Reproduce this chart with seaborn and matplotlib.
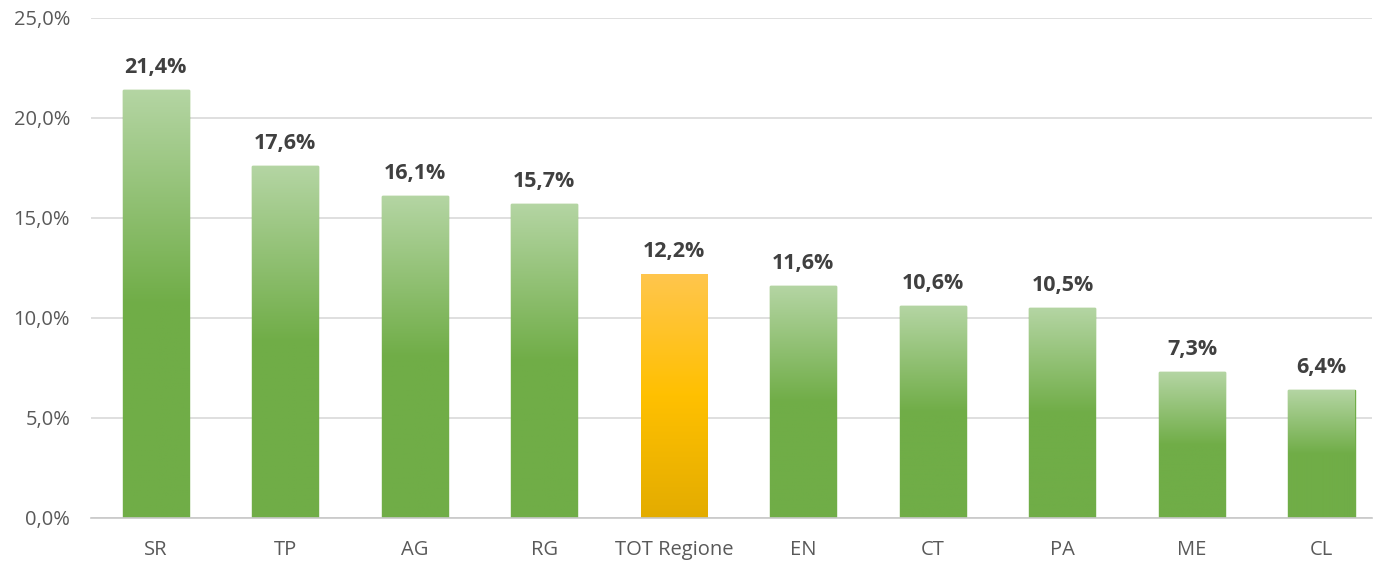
"""Bar chart of percentages by province, with gradient-filled bars."""

import numpy as np
import pandas as pd
import seaborn as sns
import matplotlib.pyplot as plt
from matplotlib.colors import LinearSegmentedColormap

categories = ["SR", "TP", "AG", "RG", "TOT Regione", "EN", "CT", "PA", "ME", "CL"]
values = [21.4, 17.6, 16.1, 15.7, 12.2, 11.6, 10.6, 10.5, 7.3, 6.4]
highlight = "TOT Regione"
yticks = [0, 5, 10, 15, 20, 25]

df = pd.DataFrame({"cat": categories, "val": values})

sns.set_style("white")
plt.rcParams["font.family"] = ["Open Sans", "DejaVu Sans"]

fig = plt.figure(figsize=(13.76, 5.61), dpi=100)
ax = fig.add_axes([91 / 1376, 1 - 518 / 561, (1372 - 91) / 1376, 500 / 561])

sns.barplot(data=df, x="cat", y="val", ax=ax, width=0.51,
            color="#70ad47", edgecolor="#70ad47", linewidth=1, zorder=2)

# gradient colormaps (top of bar -> bottom)
green = LinearSegmentedColormap.from_list(
    "g", [(0, "#b4d5a3"), (0.5, "#70ad47"), (1, "#70ad47")])
gold = LinearSegmentedColormap.from_list(
    "y", [(0, "#ffc64d"), (0.5, "#ffc000"), (1, "#e3ac00")])
grad = np.linspace(0, 1, 256).reshape(-1, 1)

for patch, cat in zip(ax.patches, categories):
    x0, y0 = patch.get_x(), patch.get_y()
    w, h = patch.get_width(), patch.get_height()
    cmap = gold if cat == highlight else green
    if cat == highlight:
        patch.set_edgecolor("none")
    im = ax.imshow(grad, cmap=cmap, aspect="auto",
                   extent=(x0, x0 + w, y0, y0 + h), zorder=2.5,
                   origin="upper")
    im.set_clip_path(patch)

for i, v in enumerate(values):
    ax.annotate(f"{v:.1f}%".replace(".", ","), (i, v), xytext=(0, 9),
                textcoords="offset points", ha="center", va="bottom",
                fontsize=15.5, fontweight="bold", color="#404040")

ax.set_xlim(-0.5, 9.39)
ax.set_ylim(0, 25)
ax.set_yticks(yticks)
ax.set_yticklabels([f"{t:.1f}%".replace(".", ",") for t in yticks])
ax.yaxis.grid(True, color="#d9d9d9", linewidth=1.2, zorder=0)
ax.set_axisbelow(True)
ax.set_xlabel("")
ax.set_ylabel("")
for s in ["top", "right", "left"]:
    ax.spines[s].set_visible(False)
ax.spines["bottom"].set_color("#c8c8c8")
ax.spines["bottom"].set_linewidth(1.2)
ax.tick_params(axis="both", length=0, labelsize=14.5, colors="#595959")
ax.tick_params(axis="x", pad=16)
ax.tick_params(axis="y", pad=15)

fig.savefig("out.png", dpi=100)
